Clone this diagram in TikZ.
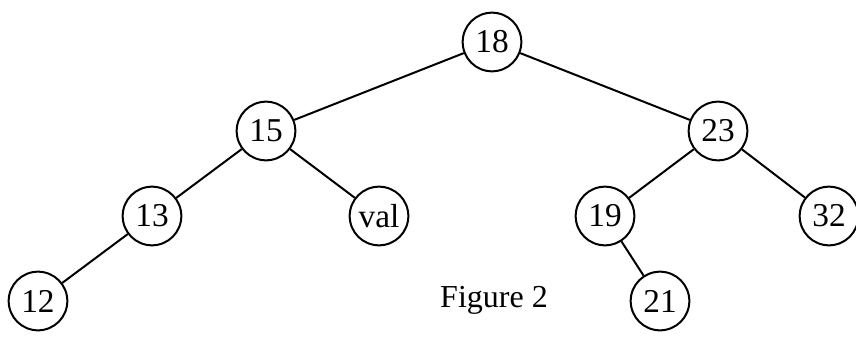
\documentclass[tikz,border=0pt]{standalone}
\usepackage{fontspec}
\setmainfont{Liberation Serif}
\begin{document}
\begin{tikzpicture}[x=0.75pt,y=-0.75pt,
  tn/.style={circle,draw,line width=1.5pt,minimum size=44pt,inner sep=0pt,font=\fontsize{25}{29}\selectfont},
  edge/.style={line width=1.5pt}]
\useasboundingbox (0,0) rectangle (856,343);
\node[tn] (n18) at (492,42) {18};
\node[tn] (n15) at (266,131) {15};
\node[tn] (n23) at (718,131) {23};
\node[tn] (n13) at (152,216) {13};
\node[tn] (nval) at (379,216) {val};
\node[tn] (n19) at (605,216) {19};
\node[tn] (n32) at (829,216) {32};
\node[tn] (n12) at (38,301) {12};
\node[tn] (n21) at (660,301) {21};
\node[font=\fontsize{24}{28}\selectfont] (cap) at (494,300) {Figure 2};
\draw[edge] (n18) -- (n15);
\draw[edge] (n18) -- (n23);
\draw[edge] (n15) -- (n13);
\draw[edge] (n15) -- (nval);
\draw[edge] (n23) -- (n19);
\draw[edge] (n23) -- (n32);
\draw[edge] (n13) -- (n12);
\draw[edge] (n19) -- (n21);
\end{tikzpicture}
\end{document}
